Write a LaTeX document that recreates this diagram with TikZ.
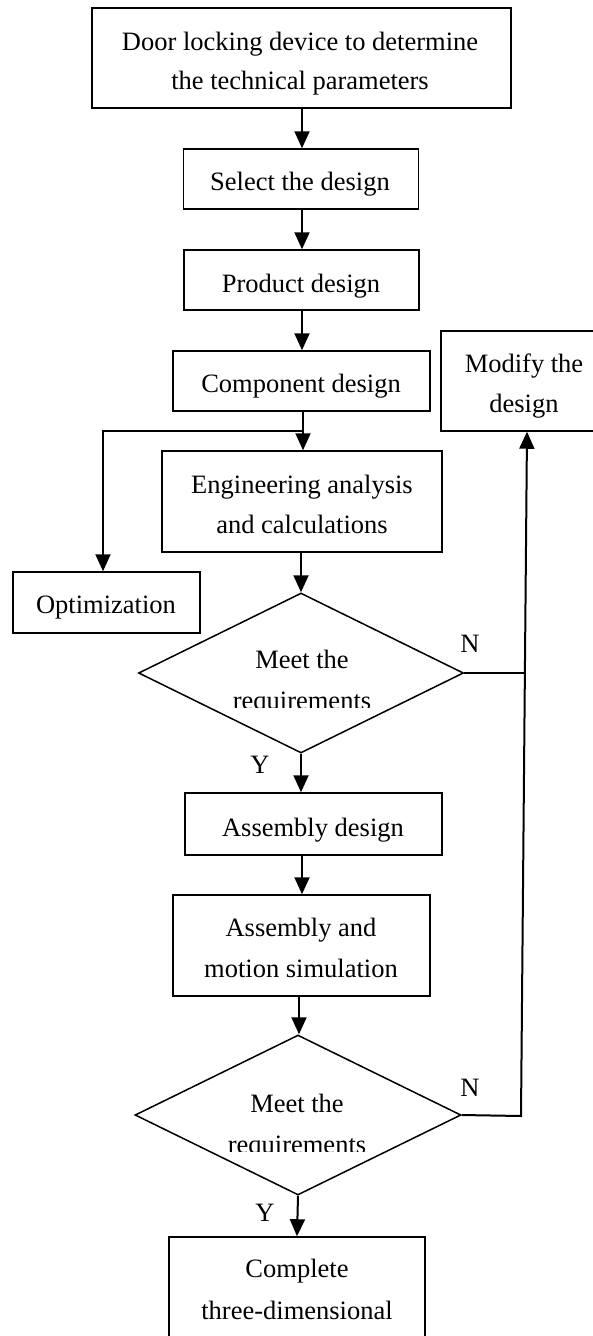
\documentclass[tikz,border=0pt]{standalone}
\usepackage{fontspec}
\setmainfont{Liberation Serif}
\usetikzlibrary{arrows.meta,shapes.geometric}
\begin{document}
\begin{tikzpicture}[x=1pt,y=-1pt,
 box/.style={draw,line width=1.5pt,inner sep=0pt,rectangle},
 dia/.style={draw,line width=1.5pt,diamond,inner sep=0pt},
 txt/.style={font=\fontsize{26.5}{32}\selectfont,anchor=base,inner sep=0pt},
 arr/.style={line width=2pt,-{Triangle[width=15pt,length=17pt]}},
 ln/.style={line width=1.5pt}]
\useasboundingbox (0,0) rectangle (593,1336);
\fill[white] (0,0) rectangle (593,1336);

% boxes
\node[box,minimum width=419,minimum height=100] (n1) at (301.5,58) {};
\node[box,minimum width=235,minimum height=60] (n2) at (301,179) {};
\node[box,minimum width=235,minimum height=60] (n3) at (301.5,280) {};
\node[box,minimum width=257,minimum height=60] (n4) at (301.5,381) {};
\node[box,minimum width=280,minimum height=101] (n5) at (302,501.5) {};
\node[box,minimum width=187,minimum height=61] (n6) at (106.5,602.5) {};
\node[box,minimum width=240,minimum height=100] (n7) at (561,381) {};
\node[dia,minimum width=325,minimum height=160] (d1) at (301,673) {};
\node[box,minimum width=257,minimum height=62] (n8) at (313.5,824) {};
\node[box,minimum width=257,minimum height=101] (n9) at (301.5,945.5) {};
\node[dia,minimum width=326,minimum height=160] (d2) at (298,1115) {};
\node[box,minimum width=256,minimum height=140] (n10) at (297,1307) {};

% texts
\node[txt] (t1a) at (300,50) {Door locking device to determine};
\node[txt] (t1b) at (300,89) {the technical parameters};
\node[txt] (t2) at (300,190) {Select the design};
\node[txt] (t3) at (301,292) {Product design};
\node[txt] (t4) at (301,392) {Component design};
\node[txt] (t5a) at (302,493) {Engineering analysis};
\node[txt] (t5b) at (302,533) {and calculations};
\node[txt] (t6) at (106,613) {Optimization};
\node[txt] (t7a) at (524,372) {Modify the};
\node[txt] (t7b) at (524,412) {design};
\node[txt] (td1a) at (302,668) {Meet the};
\begin{scope}
\clip (140,680) rectangle (460,707);
\node[txt] (td1b) at (302,709) {requirements};
\end{scope}
\node[txt] (t8) at (313,836) {Assembly design};
\node[txt] (t9a) at (301,936) {Assembly and};
\node[txt] (t9b) at (301,977) {motion simulation};
\node[txt] (td2a) at (297,1112) {Meet the};
\begin{scope}
\clip (140,1122) rectangle (460,1151);
\node[txt] (td2b) at (297,1153) {requirements};
\end{scope}
\node[txt] (t10a) at (297,1277) {Complete};
\node[txt] (t10b) at (297,1319) {three-dimensional};

% labels
\node[txt] (N1) at (470,652) {N};
\node[txt] (Y1) at (260,773) {Y};
\node[txt] (N2) at (470,1096) {N};
\node[txt] (Y2) at (265,1221) {Y};

% connectors
\draw[arr] (n1.south -| 302,0) -- (n2.north -| 302,0);
\draw[arr] (n2.south -| 302,0) -- (n3.north -| 302,0);
\draw[arr] (n3.south -| 302,0) -- (n4.north -| 302,0);
\draw[arr] (n4.south -| 303,0) -- (n5.north -| 303,0);
\coordinate (b1) at (303,431);
\coordinate (b2) at (103,431);
\draw[arr] (b1) -- (b2) -- (b2 |- n6.north);
\draw[arr] (n5.south -| d1.north) -- (d1.north);
\draw[arr] (d1.south) -- (d1.south |- n8.north);
\draw[arr] (n8.south -| 302,0) -- (n9.north -| 302,0);
\draw[arr] (n9.south -| 299,0) -- (d2.north -| 299,0);
\draw[arr] (d2.south) -- (n10.north);
\coordinate (j1) at (525,673);
\coordinate (j2) at (521,1116);
\draw[line width=1.2pt] (d1.east) -- (j1);
\draw[arr] (d2.east) -- (j2) -- (n7.south -| 527,0);
\end{tikzpicture}
\end{document}
